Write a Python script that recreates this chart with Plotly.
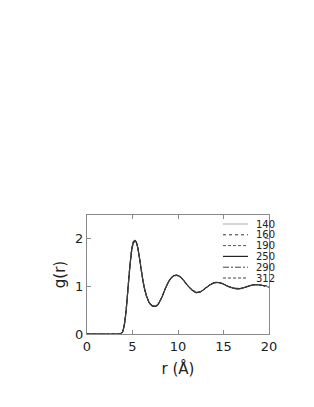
import plotly.graph_objects as go

r = [0.0, 3.5, 3.7, 3.9, 4.1, 4.3, 4.5, 4.7, 4.9, 5.1, 5.3, 5.5, 5.7, 5.9, 6.1, 6.3, 6.6, 6.9,
     7.2, 7.5, 7.8, 8.2, 8.6, 9.0, 9.4, 9.8, 10.2, 10.6, 11.0, 11.5, 12.0, 12.5, 13.0,
     13.5, 14.0, 14.5, 15.0, 15.5, 16.0, 16.5, 17.0, 17.5, 18.0, 18.5, 19.0, 19.5, 20.0]

g_140 = [0.0, 0.0, 0.01, 0.05, 0.20, 0.50, 0.95, 1.40, 1.75, 1.93, 1.97, 1.88, 1.68, 1.42, 1.17,
         0.96, 0.76, 0.64, 0.59, 0.58, 0.62, 0.76, 0.95, 1.11, 1.21, 1.24, 1.21, 1.13, 1.03,
         0.93, 0.87, 0.89, 0.96, 1.03, 1.08, 1.08, 1.05, 1.00, 0.97, 0.95, 0.96, 0.99, 1.02,
         1.04, 1.03, 1.01, 0.99]
g_160 = [0.0, 0.0, 0.01, 0.05, 0.21, 0.52, 0.97, 1.42, 1.77, 1.95, 1.98, 1.89, 1.68, 1.41, 1.16,
         0.95, 0.75, 0.63, 0.58, 0.58, 0.62, 0.76, 0.95, 1.11, 1.21, 1.24, 1.21, 1.13, 1.03,
         0.93, 0.87, 0.89, 0.96, 1.03, 1.08, 1.08, 1.05, 1.00, 0.97, 0.95, 0.96, 0.99, 1.02,
         1.04, 1.03, 1.01, 0.99]
g_190 = [0.0, 0.0, 0.01, 0.05, 0.20, 0.51, 0.96, 1.41, 1.76, 1.94, 1.97, 1.88, 1.67, 1.41, 1.17,
         0.96, 0.76, 0.64, 0.59, 0.58, 0.62, 0.76, 0.95, 1.11, 1.21, 1.24, 1.21, 1.13, 1.03,
         0.93, 0.87, 0.89, 0.96, 1.03, 1.08, 1.08, 1.05, 1.00, 0.97, 0.95, 0.96, 0.99, 1.02,
         1.04, 1.03, 1.01, 0.99]
g_250 = [0.0, 0.0, 0.01, 0.04, 0.19, 0.49, 0.94, 1.39, 1.74, 1.92, 1.96, 1.88, 1.68, 1.43, 1.18,
         0.97, 0.77, 0.64, 0.59, 0.58, 0.62, 0.76, 0.95, 1.11, 1.21, 1.23, 1.21, 1.13, 1.03,
         0.93, 0.87, 0.89, 0.96, 1.03, 1.08, 1.08, 1.05, 1.00, 0.97, 0.95, 0.96, 0.99, 1.02,
         1.04, 1.03, 1.01, 0.99]
g_290 = [0.0, 0.0, 0.01, 0.04, 0.18, 0.48, 0.93, 1.38, 1.73, 1.91, 1.95, 1.87, 1.68, 1.43, 1.19,
         0.98, 0.77, 0.65, 0.60, 0.59, 0.63, 0.76, 0.95, 1.11, 1.20, 1.23, 1.20, 1.13, 1.03,
         0.94, 0.88, 0.89, 0.96, 1.03, 1.07, 1.08, 1.05, 1.00, 0.97, 0.96, 0.96, 0.99, 1.02,
         1.03, 1.03, 1.01, 0.99]
g_312 = [0.0, 0.0, 0.01, 0.04, 0.18, 0.47, 0.92, 1.37, 1.72, 1.90, 1.94, 1.87, 1.68, 1.44, 1.19,
         0.98, 0.78, 0.65, 0.60, 0.59, 0.63, 0.76, 0.95, 1.10, 1.20, 1.23, 1.20, 1.13, 1.03,
         0.94, 0.88, 0.89, 0.96, 1.03, 1.07, 1.08, 1.05, 1.00, 0.97, 0.96, 0.96, 0.99, 1.02,
         1.03, 1.03, 1.01, 0.99]

labels = ["140", "160", "190", "250", "290", "312"]
series = [g_140, g_160, g_190, g_250, g_290, g_312]
styles = [("#aaaaaa", "solid", 1), ("#333333", "dot", 1), ("#555555", "3px,2px", 1),
          ("#222222", "solid", 1.2), ("#444444", "6px,2px,2px,2px", 1), ("#444444", "3px,2px", 1)]

# plot area in layout pixels (page adds an 8px body margin)
L, R, T, B = 79, 261, 207, 326
W, H = 314, 407

fig = go.Figure()
shapes, annotations = [], []
for i, (lab, g, (col, dash, w)) in enumerate(zip(labels, series, styles)):
    fig.add_trace(go.Scatter(x=r, y=g, mode="lines", name=lab, showlegend=False,
                             line=dict(color=col, dash=dash, width=w, shape="spline", smoothing=0.6)))
    py = 216 + i * 10.8
    yp = (B - py) / (B - T)
    shapes.append(dict(type="line", xref="paper", yref="paper",
                       x0=(215 - L) / (R - L), x1=(240 - L) / (R - L), y0=yp, y1=yp,
                       line=dict(color=col, dash=dash, width=w)))
    annotations.append(dict(xref="paper", yref="paper", x=(246 - L) / (R - L), y=yp,
                            xanchor="left", yanchor="middle", showarrow=False, text=lab,
                            font=dict(family="DejaVu Sans", size=10, color="#222222")))

axis_common = dict(showgrid=False, zeroline=False, showline=True, linecolor="#8a8a8a", linewidth=1,
                   mirror="ticks", ticks="inside", ticklen=4, tickcolor="#8a8a8a", automargin=False,
                   tickfont=dict(family="DejaVu Sans", size=13, color="#222222"))
fig.update_layout(
    width=W, height=H,
    margin=dict(l=L, r=W - R, t=T, b=H - B),
    paper_bgcolor="white", plot_bgcolor="white",
    showlegend=False,
    shapes=shapes, annotations=annotations,
    xaxis=dict(range=[0, 20], tickvals=[0, 5, 10, 15, 20], title=dict(text="r (Å)", standoff=10,
               font=dict(family="DejaVu Sans", size=15, color="#222222")), **axis_common),
    yaxis=dict(range=[0, 2.5], tickvals=[0, 1, 2], title=dict(text="g(r)", standoff=5,
               font=dict(family="DejaVu Sans", size=15, color="#222222")), **axis_common),
)
fig.write_html("out.html")
